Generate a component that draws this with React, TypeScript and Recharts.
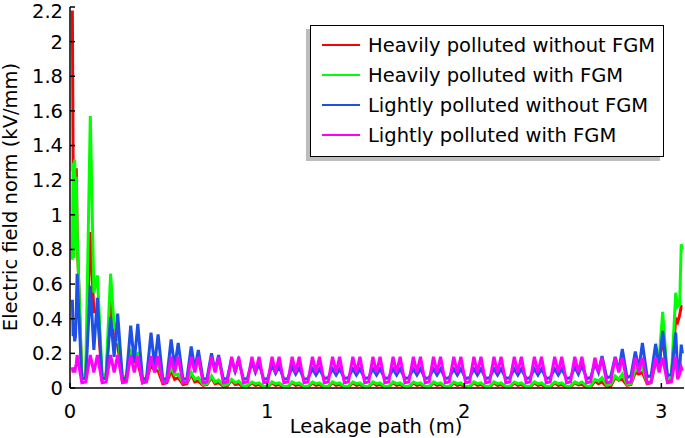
import React from 'react';
import { LineChart, Line, XAxis, YAxis } from 'recharts';

const FONT = '"DejaVu Sans", Verdana, sans-serif';

// Leakage path positions (m)
const leakagePath = [
  0.012, 0.016, 0.020, 0.024, 0.028, 0.032, 0.036, 0.060, 0.080,
  0.103, 0.121, 0.139, 0.163, 0.183,
  0.206, 0.224, 0.242, 0.266, 0.286,
  0.308, 0.326, 0.344, 0.368, 0.388,
  0.411, 0.429, 0.447, 0.471, 0.491,
  0.513, 0.531, 0.549, 0.573, 0.593,
  0.615, 0.633, 0.651, 0.675, 0.695,
  0.718, 0.736, 0.754, 0.778, 0.798,
  0.820, 0.838, 0.856, 0.880, 0.900,
  0.923, 0.941, 0.959, 0.983, 1.003,
  1.025, 1.043, 1.061, 1.085, 1.105,
  1.127, 1.145, 1.163, 1.187, 1.207,
  1.230, 1.248, 1.266, 1.290, 1.310,
  1.332, 1.350, 1.368, 1.392, 1.412,
  1.435, 1.453, 1.471, 1.495, 1.515,
  1.537, 1.555, 1.573, 1.597, 1.617,
  1.639, 1.657, 1.675, 1.699, 1.719,
  1.742, 1.760, 1.778, 1.802, 1.822,
  1.844, 1.862, 1.880, 1.904, 1.924,
  1.947, 1.965, 1.983, 2.007, 2.027,
  2.049, 2.067, 2.085, 2.109, 2.129,
  2.151, 2.169, 2.187, 2.211, 2.231,
  2.254, 2.272, 2.290, 2.314, 2.334,
  2.356, 2.374, 2.392, 2.416, 2.436,
  2.459, 2.477, 2.495, 2.519, 2.539,
  2.561, 2.579, 2.597, 2.621, 2.641,
  2.663, 2.681, 2.699, 2.723, 2.743,
  2.766, 2.784, 2.802, 2.826, 2.846,
  2.868, 2.886, 2.904, 2.928, 2.948,
  2.971, 2.989, 3.007, 3.031, 3.051,
  3.073, 3.083, 3.093, 3.101, 3.107,
];

// Heavily polluted without FGM (kV/mm)
const heavyWithoutFgm = [
  2.18, 1.26, 1.26, 1.26, 1.26, 1.26, 0.90, 0.05, 0.06,
  0.90, 0.44, 0.44, 0.05, 0.06,
  0.50, 0.25, 0.25, 0.04, 0.05,
  0.20, 0.15, 0.15, 0.03, 0.04,
  0.14, 0.10, 0.10, 0.025, 0.03,
  0.10, 0.05, 0.06, 0.02, 0.025,
  0.08, 0.035, 0.04, 0.015, 0.02,
  0.06, 0.025, 0.03, 0.01, 0.012,
  0.045, 0.02, 0.025, 0.006, 0.008,
  0.03, 0.015, 0.02, 0.003, 0.005,
  0.03, 0.015, 0.02, 0.003, 0.005,
  0.03, 0.015, 0.02, 0.003, 0.005,
  0.03, 0.015, 0.02, 0.003, 0.005,
  0.03, 0.015, 0.02, 0.003, 0.005,
  0.03, 0.015, 0.02, 0.003, 0.005,
  0.03, 0.015, 0.02, 0.003, 0.005,
  0.03, 0.015, 0.02, 0.003, 0.005,
  0.03, 0.015, 0.02, 0.003, 0.005,
  0.03, 0.015, 0.02, 0.003, 0.005,
  0.03, 0.015, 0.02, 0.003, 0.005,
  0.03, 0.015, 0.02, 0.003, 0.005,
  0.03, 0.015, 0.02, 0.003, 0.005,
  0.03, 0.015, 0.02, 0.003, 0.005,
  0.03, 0.015, 0.02, 0.003, 0.005,
  0.03, 0.015, 0.02, 0.003, 0.005,
  0.03, 0.018, 0.022, 0.004, 0.006,
  0.04, 0.025, 0.035, 0.008, 0.01,
  0.06, 0.045, 0.05, 0.015, 0.02,
  0.09, 0.08, 0.09, 0.025, 0.03,
  0.15, 0.14, 0.30, 0.04, 0.05,
  0.40, 0.38, 0.42, 0.47, 0.47,
];

// Heavily polluted with FGM (kV/mm)
const heavyWithFgm = [
  0.74, 1.30, 0.75, 1.32, 0.80, 1.22, 0.90, 0.07, 0.08,
  1.57, 0.55, 0.65, 0.07, 0.08,
  0.66, 0.35, 0.33, 0.06, 0.07,
  0.21, 0.19, 0.20, 0.05, 0.06,
  0.16, 0.13, 0.14, 0.04, 0.05,
  0.12, 0.075, 0.08, 0.03, 0.035,
  0.09, 0.05, 0.06, 0.02, 0.025,
  0.07, 0.035, 0.045, 0.015, 0.02,
  0.05, 0.03, 0.04, 0.01, 0.015,
  0.035, 0.025, 0.03, 0.008, 0.01,
  0.035, 0.025, 0.03, 0.008, 0.01,
  0.035, 0.025, 0.03, 0.008, 0.01,
  0.035, 0.025, 0.03, 0.008, 0.01,
  0.035, 0.025, 0.03, 0.008, 0.01,
  0.035, 0.025, 0.03, 0.008, 0.01,
  0.035, 0.025, 0.03, 0.008, 0.01,
  0.035, 0.025, 0.03, 0.008, 0.01,
  0.035, 0.025, 0.03, 0.008, 0.01,
  0.035, 0.025, 0.03, 0.008, 0.01,
  0.035, 0.025, 0.03, 0.008, 0.01,
  0.035, 0.025, 0.03, 0.008, 0.01,
  0.035, 0.025, 0.03, 0.008, 0.01,
  0.035, 0.025, 0.03, 0.008, 0.01,
  0.035, 0.025, 0.03, 0.008, 0.01,
  0.035, 0.025, 0.03, 0.008, 0.01,
  0.035, 0.025, 0.035, 0.01, 0.012,
  0.05, 0.04, 0.06, 0.015, 0.02,
  0.07, 0.05, 0.08, 0.02, 0.025,
  0.11, 0.10, 0.12, 0.03, 0.035,
  0.18, 0.17, 0.44, 0.05, 0.06,
  0.55, 0.47, 0.48, 0.83, 0.80,
];

// Lightly polluted without FGM (kV/mm)
const lightWithoutFgm = [
  0.51, 0.30, 0.32, 0.27, 0.30, 0.45, 0.66, 0.05, 0.06,
  0.59, 0.22, 0.52, 0.05, 0.06,
  0.41, 0.18, 0.43, 0.05, 0.06,
  0.36, 0.15, 0.37, 0.05, 0.055,
  0.32, 0.13, 0.31, 0.05, 0.055,
  0.28, 0.12, 0.26, 0.05, 0.055,
  0.24, 0.11, 0.22, 0.05, 0.055,
  0.20, 0.10, 0.19, 0.05, 0.055,
  0.17, 0.095, 0.16, 0.05, 0.055,
  0.15, 0.09, 0.14, 0.05, 0.055,
  0.13, 0.085, 0.125, 0.05, 0.055,
  0.12, 0.08, 0.115, 0.05, 0.055,
  0.11, 0.075, 0.11, 0.055, 0.06,
  0.11, 0.075, 0.11, 0.055, 0.06,
  0.11, 0.075, 0.11, 0.055, 0.06,
  0.11, 0.075, 0.11, 0.055, 0.06,
  0.11, 0.075, 0.11, 0.055, 0.06,
  0.11, 0.075, 0.11, 0.055, 0.06,
  0.11, 0.075, 0.11, 0.055, 0.06,
  0.11, 0.075, 0.11, 0.055, 0.06,
  0.11, 0.075, 0.11, 0.055, 0.06,
  0.11, 0.075, 0.11, 0.055, 0.06,
  0.11, 0.075, 0.11, 0.055, 0.06,
  0.11, 0.075, 0.11, 0.055, 0.06,
  0.11, 0.075, 0.11, 0.055, 0.06,
  0.12, 0.08, 0.13, 0.055, 0.06,
  0.14, 0.09, 0.185, 0.06, 0.065,
  0.18, 0.10, 0.225, 0.06, 0.07,
  0.21, 0.11, 0.26, 0.065, 0.07,
  0.255, 0.12, 0.33, 0.07, 0.08,
  0.32, 0.09, 0.12, 0.25, 0.20,
];

// Lightly polluted with FGM (kV/mm)
const lightWithFgm = [
  0.12, 0.09, 0.11, 0.09, 0.12, 0.14, 0.19, 0.03, 0.035,
  0.19, 0.09, 0.19, 0.03, 0.035,
  0.19, 0.09, 0.19, 0.03, 0.035,
  0.19, 0.09, 0.185, 0.03, 0.035,
  0.185, 0.09, 0.185, 0.03, 0.035,
  0.18, 0.09, 0.18, 0.03, 0.035,
  0.18, 0.09, 0.18, 0.03, 0.035,
  0.18, 0.09, 0.18, 0.03, 0.035,
  0.18, 0.09, 0.18, 0.03, 0.035,
  0.18, 0.09, 0.18, 0.03, 0.035,
  0.18, 0.09, 0.18, 0.03, 0.035,
  0.18, 0.09, 0.18, 0.03, 0.035,
  0.18, 0.09, 0.18, 0.03, 0.035,
  0.18, 0.09, 0.18, 0.03, 0.035,
  0.18, 0.09, 0.18, 0.03, 0.035,
  0.18, 0.09, 0.18, 0.03, 0.035,
  0.18, 0.09, 0.18, 0.03, 0.035,
  0.18, 0.09, 0.18, 0.03, 0.035,
  0.18, 0.09, 0.18, 0.03, 0.035,
  0.18, 0.09, 0.18, 0.03, 0.035,
  0.18, 0.09, 0.18, 0.03, 0.035,
  0.18, 0.09, 0.18, 0.03, 0.035,
  0.18, 0.09, 0.18, 0.03, 0.035,
  0.18, 0.09, 0.18, 0.03, 0.035,
  0.18, 0.09, 0.18, 0.03, 0.035,
  0.18, 0.09, 0.18, 0.03, 0.035,
  0.175, 0.09, 0.175, 0.03, 0.035,
  0.175, 0.09, 0.175, 0.03, 0.035,
  0.175, 0.09, 0.175, 0.03, 0.035,
  0.175, 0.09, 0.175, 0.03, 0.035,
  0.18, 0.05, 0.08, 0.12, 0.10,
];

const xTicks = [0, 1, 2, 3];
const yTicks = [0, 0.2, 0.4, 0.6, 0.8, 1, 1.2, 1.4, 1.6, 1.8, 2, 2.2];

const seriesNames = [
  'Heavily polluted without FGM',
  'Heavily polluted with FGM',
  'Lightly polluted without FGM',
  'Lightly polluted with FGM',
];
const seriesKeys = ['hNo', 'hFgm', 'lNo', 'lFgm'];
const seriesColors = ['#ff0000', '#00ff00', '#1e4fe6', '#ff00ff'];

const tickStyle = { fill: '#000', fontSize: 19.5, fontFamily: FONT };

const YLabel = () => (
  <text
    x={17}
    y={197}
    transform="rotate(-90, 17, 197)"
    textAnchor="middle"
    fontSize={19.5}
    fontFamily={FONT}
    fill="#000"
  >
    Electric field norm (kV/mm)
  </text>
);

const XLabel = () => (
  <text x={376} y={433} textAnchor="middle" fontSize={19.5} fontFamily={FONT} fill="#000">
    Leakage path (m)
  </text>
);

const LegendBox = () => (
  <div
    style={{
      position: 'absolute',
      left: 310,
      top: 25,
      width: 354,
      height: 132,
      boxSizing: 'border-box',
      border: '1.5px solid #000',
      background: '#fff',
      boxShadow: '-4px 4px 0 #bdbdbd',
    }}
  >
    <svg width={352} height={130} style={{ position: 'absolute', left: 0, top: 0 }}>
      {seriesNames.map((name, i) => {
        const cy = 19 + i * 30;
        return (
          <g key={name}>
            <line x1={11} x2={49} y1={cy} y2={cy} stroke={seriesColors[i]} strokeWidth={2.2} />
            <text x={57} y={cy + 7} fontSize={19.5} fontFamily={FONT} fill="#000">
              {name}
            </text>
          </g>
        );
      })}
    </svg>
  </div>
);

export default function App() {
  const data = leakagePath.map((x, i) => ({
    x,
    hNo: heavyWithoutFgm[i],
    hFgm: heavyWithFgm[i],
    lNo: lightWithoutFgm[i],
    lFgm: lightWithFgm[i],
  }));

  return (
    <div style={{ position: 'absolute', left: 0, top: 0, width: 685, height: 438, background: '#fff' }}>
      <LineChart width={685} height={438} data={data} margin={{ top: 7, right: 1, left: 0, bottom: 0 }}>
        <XAxis
          xAxisId="b"
          dataKey="x"
          type="number"
          domain={[0, 3.115]}
          allowDataOverflow
          ticks={xTicks}
          height={50}
          tickSize={-5}
          tickMargin={21}
          stroke="#000"
          strokeWidth={1.5}
          tick={tickStyle}
          label={<XLabel />}
        />
        <XAxis
          xAxisId="t"
          orientation="top"
          dataKey="x"
          type="number"
          domain={[0, 3.115]}
          allowDataOverflow
          ticks={xTicks}
          height={0}
          tickSize={-5}
          stroke="#000"
          strokeWidth={1.5}
          tick={false}
        />
        <YAxis
          yAxisId="l"
          type="number"
          domain={[0, 2.2]}
          allowDataOverflow
          ticks={yTicks}
          width={70}
          tickSize={-5}
          tickMargin={12}
          stroke="#000"
          strokeWidth={1.5}
          tick={tickStyle}
          label={<YLabel />}
        />
        <YAxis
          yAxisId="r"
          orientation="right"
          type="number"
          domain={[0, 2.2]}
          allowDataOverflow
          ticks={yTicks}
          width={0}
          tickSize={-5}
          stroke="#000"
          strokeWidth={1.5}
          tick={false}
        />
        {seriesKeys.map((k, i) => (
          <Line
            key={k}
            xAxisId="b"
            yAxisId="l"
            dataKey={k}
            name={seriesNames[i]}
            type="linear"
            stroke={seriesColors[i]}
            strokeWidth={3}
            strokeLinejoin="miter"
            dot={false}
            activeDot={false}
            isAnimationActive={false}
          />
        ))}
      </LineChart>
      <LegendBox />
    </div>
  );
}
